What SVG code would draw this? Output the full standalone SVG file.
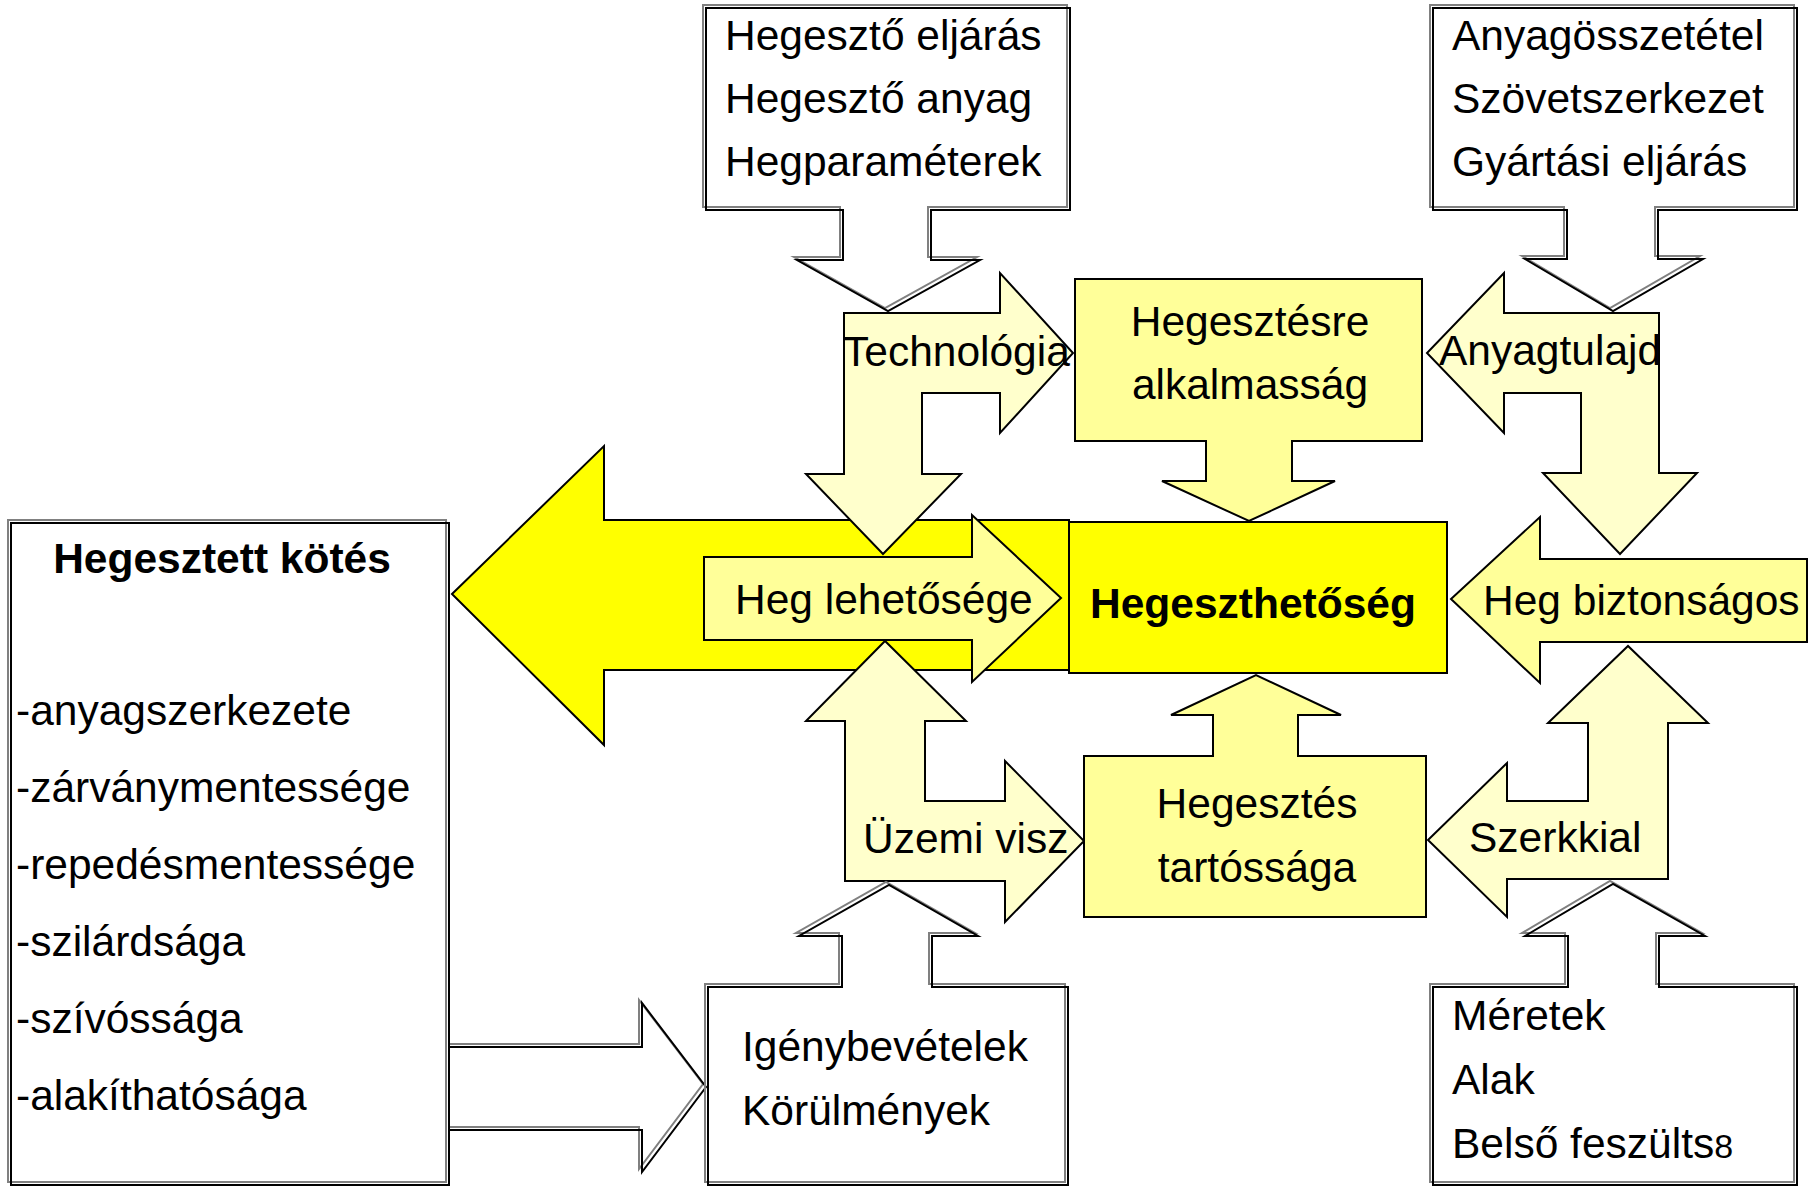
<svg xmlns="http://www.w3.org/2000/svg" width="1808" height="1187" viewBox="0 0 1808 1187">
<defs>
<style>
text{font-family:"Liberation Sans",Arial,sans-serif;font-size:42.5px;fill:#000}
.b{font-weight:bold}
.m{text-anchor:middle}
.y1{fill:#FFFF00;stroke:#000;stroke-width:2;stroke-linejoin:miter}
.y2{fill:#FFFF99;stroke:#000;stroke-width:2}
.y3{fill:#FFFFCC;stroke:#000;stroke-width:2}
.wf{fill:#fff;stroke:none}
.gs{fill:none;stroke:#808080;stroke-width:2}
.ks{fill:none;stroke:#000;stroke-width:2}
</style>
<path id="coTL" d="M706,8 H1070 V210 H931 V260 H980 L888,311 L797,260 H843 V210 H706 Z"/>
<path id="coTR" d="M1433,8 H1797 V210 H1658 V259 H1703 L1613,311 L1525,259 H1567 V210 H1433 Z"/>
<path id="coBL" d="M708,987 H842 V936 H799 L889,885 L978,936 H932 V987 H1068 V1185 H708 Z"/>
<path id="coBR" d="M1433,987 H1568 V936 H1525 L1613,884 L1705,936 H1659 V987 H1797 V1185 H1433 Z"/>
<path id="boxHK" d="M11,523 H449 V1185 H11 Z"/>
<path id="arrW" d="M449,1047 H642 V1003 L706,1087 L642,1172 V1130 H449"/>
</defs>

<g id="connectors">
<polygon class="y1" points="452,594 604,446 604,520 1069,520 1069,670 604,670 604,745"/>
<use href="#arrW" class="wf"/>
<use href="#arrW" class="gs" transform="translate(-3,-3)"/>
<use href="#arrW" class="ks"/>
</g>

<g id="node-hegesztett-kotes">
<use href="#boxHK" class="wf"/>
<use href="#boxHK" class="gs" transform="translate(-3,-3)"/>
<use href="#boxHK" class="ks"/>
<text class="b m" x="222" y="573">Hegesztett kötés</text>
<text x="16" y="725">-anyagszerkezete</text>
<text x="16" y="802">-zárványmentessége</text>
<text x="16" y="879">-repedésmentessége</text>
<text x="16" y="956">-szilárdsága</text>
<text x="16" y="1033">-szívóssága</text>
<text x="16" y="1110">-alakíthatósága</text>
</g>

<g id="node-hegeszthetoseg">
<rect class="y1" x="1069" y="522" width="378" height="151"/>
<text class="b" x="1090" y="618">Hegeszthetőség</text>
</g>

<g id="node-heg-lehetosege">
<polygon class="y2" points="704,557 972,557 972,515 1061,598 972,682 972,640 704,640"/>
<text x="735" y="614">Heg lehetősége</text>
</g>

<g id="node-technologia">
<polygon class="y3" points="844,313 1000,313 1000,273 1073,353 1000,433 1000,393 922,393 922,474 961,474 883,554 806,474 844,474"/>
<text x="843" y="366">Technológia</text>
</g>

<g id="node-anyagtulajd">
<polygon class="y3" points="1659,313 1504,313 1504,273 1427,353 1504,433 1504,393 1581,393 1581,473 1543,473 1620,554 1697,473 1659,473"/>
<text x="1439" y="365">Anyagtulajd</text>
</g>

<g id="node-hegesztesre-alkalmassag">
<polygon class="y2" points="1075,279 1422,279 1422,441 1292,441 1292,481 1335,481 1249,521 1162,481 1206,481 1206,441 1075,441"/>
<text class="m" x="1250" y="336">Hegesztésre</text>
<text class="m" x="1250" y="399">alkalmasság</text>
</g>

<g id="node-heg-biztonsagos">
<polygon class="y2" points="1807,559 1540,559 1540,517 1451,599 1540,683 1540,642 1807,642"/>
<text x="1483" y="615">Heg biztonságos</text>
</g>

<g id="node-uzemi-visz">
<polygon class="y3" points="845,881 845,721 806,721 885,641 966,721 925,721 925,801 1005,801 1005,761 1084,841 1005,922 1005,881"/>
<text x="863" y="853">Üzemi visz</text>
</g>

<g id="node-hegesztes-tartossaga">
<polygon class="y2" points="1084,756 1213,756 1213,715 1171,715 1256,675 1341,715 1298,715 1298,756 1426,756 1426,917 1084,917"/>
<text class="m" x="1257" y="818">Hegesztés</text>
<text class="m" x="1257" y="882">tartóssága</text>
</g>

<g id="node-szerkkial">
<polygon class="y3" points="1668,879 1668,723 1708,723 1628,646 1548,723 1588,723 1588,801 1507,801 1507,763 1428,840 1507,917 1507,879"/>
<text x="1469" y="852">Szerkkial</text>
</g>

<g id="node-hegeszto-eljaras">
<use href="#coTL" class="wf"/>
<use href="#coTL" class="gs" transform="translate(-3,-3)"/>
<use href="#coTL" class="ks"/>
<text x="725" y="50">Hegesztő eljárás</text>
<text x="725" y="113">Hegesztő anyag</text>
<text x="725" y="176">Hegparaméterek</text>
</g>

<g id="node-anyagosszetetel">
<use href="#coTR" class="wf"/>
<use href="#coTR" class="gs" transform="translate(-3,-3)"/>
<use href="#coTR" class="ks"/>
<text x="1452" y="50">Anyagösszetétel</text>
<text x="1452" y="113">Szövetszerkezet</text>
<text x="1452" y="176">Gyártási eljárás</text>
</g>

<g id="node-igenybevetelek">
<use href="#coBL" class="wf"/>
<use href="#coBL" class="gs" transform="translate(-3,-3)"/>
<use href="#coBL" class="ks"/>
<text x="742" y="1061">Igénybevételek</text>
<text x="742" y="1125">Körülmények</text>
</g>

<g id="node-meretek">
<use href="#coBR" class="wf"/>
<use href="#coBR" class="gs" transform="translate(-3,-3)"/>
<use href="#coBR" class="ks"/>
<text x="1452" y="1030">Méretek</text>
<text x="1452" y="1094">Alak</text>
<text x="1452" y="1158">Belső feszülts<tspan font-size="34">8</tspan></text>
</g>
</svg>
